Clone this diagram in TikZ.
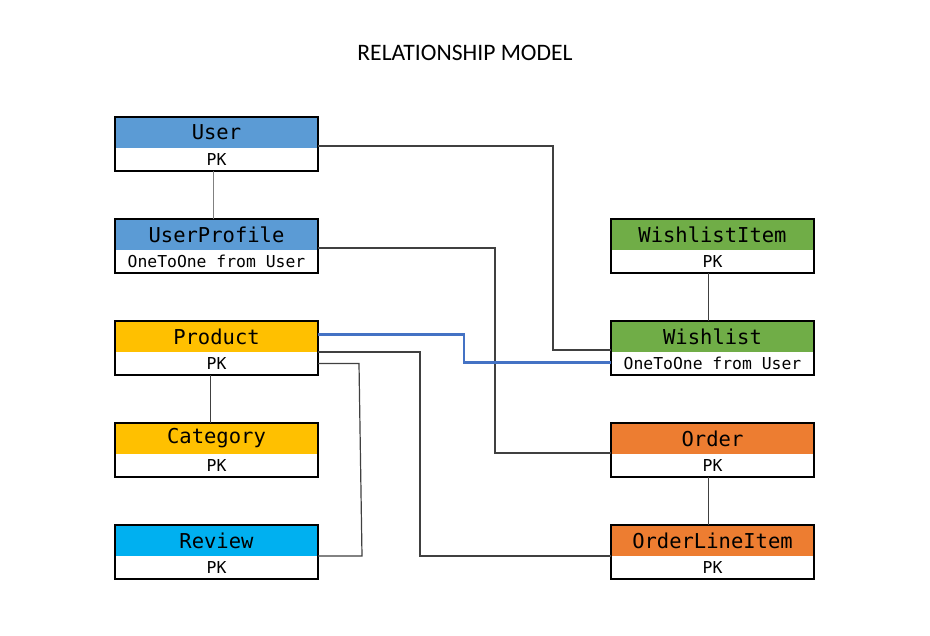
\documentclass[tikz,border=0pt]{standalone}
\usepackage{fontspec}
\setmonofont{DejaVu Sans Mono}
\newfontfamily\titlefont{Carlito}
\definecolor{cuser}{HTML}{5B9BD5}
\definecolor{cprod}{HTML}{FFC000}
\definecolor{crev}{HTML}{00B0F0}
\definecolor{cwish}{HTML}{70AD47}
\definecolor{cord}{HTML}{ED7D31}
\definecolor{cblue}{HTML}{4472C4}
\definecolor{cline}{HTML}{404040}
\tikzset{
  hdr/.style={anchor=north west, minimum width=203pt, minimum height=31pt, inner sep=0pt, outer sep=0pt, font=\ttfamily\fontsize{20.5}{24}\selectfont},
  bdy/.style={anchor=north, minimum width=203pt, minimum height=23pt, inner sep=0pt, outer sep=0pt, fill=white, font=\ttfamily\fontsize{16.4}{19}\selectfont},
  frame/.style={draw=black, line width=2.4pt},
  conn/.style={draw=cline, line width=1.2pt},
  connb/.style={draw=cblue, line width=2.6pt},
}
\newcommand{\ERbox}[6]{%
  \node[hdr, fill=#4] (#1) at (#2,#3) {#5};
  \node[bdy] (#1B) at (#1.south) {#6};
  \draw[frame] (#1.north west) rectangle (#1B.south east);
}
\begin{document}
\begin{tikzpicture}[x=1pt,y=-1pt]
\useasboundingbox[fill=white] (0,0) rectangle (930,636);
\node[font=\titlefont\fontsize{23.6}{26}\selectfont] (title) at (465,53) {RELATIONSHIP MODEL};
\ERbox{User}{115}{117}{cuser}{User}{PK}
\ERbox{UserProfile}{115}{219}{cuser}{UserProfile}{OneToOne from User}
\ERbox{Product}{115}{321}{cprod}{Product}{PK}
\ERbox{Category}{115}{423}{cprod}{Category}{PK}
\ERbox{Review}{115}{525}{crev}{Review}{PK}
\ERbox{WishlistItem}{611}{219}{cwish}{WishlistItem}{PK}
\ERbox{Wishlist}{611}{321}{cwish}{Wishlist}{OneToOne from User}
\ERbox{Order}{611}{423}{cord}{Order}{PK}
\ERbox{OrderLineItem}{611}{525}{cord}{OrderLineItem}{PK}
\draw[draw=gray, line width=1.6pt] ([xshift=-3]UserB.south) -- ([xshift=-3]UserProfile.north);
\draw[conn] ([xshift=-6]ProductB.south) -- ([xshift=-6]Category.north);
\draw[conn] ([xshift=-4]WishlistItemB.south) -- ([xshift=-4]Wishlist.north);
\draw[conn] ([xshift=-4]OrderB.south) -- ([xshift=-4]OrderLineItem.north);
\draw[conn] ([yshift=2]User.south east) -- ++(235,0) |- ([yshift=2]Wishlist.south west);
\draw[conn] ([yshift=2]UserProfile.south east) -- ++(177,0) |- ([yshift=1]Order.south west);
\draw[conn] (Product.south east) -- ++(102,0) |- (OrderLineItem.south west);
\draw[conn] (ProductB.east) -- ++(41,0) -- ([xshift=44]Review.south east) -- (Review.south east);
\draw[connb] ([yshift=2]Product.east) -- ++(146,0) |- ([yshift=1]WishlistB.west);
\end{tikzpicture}
\end{document}
